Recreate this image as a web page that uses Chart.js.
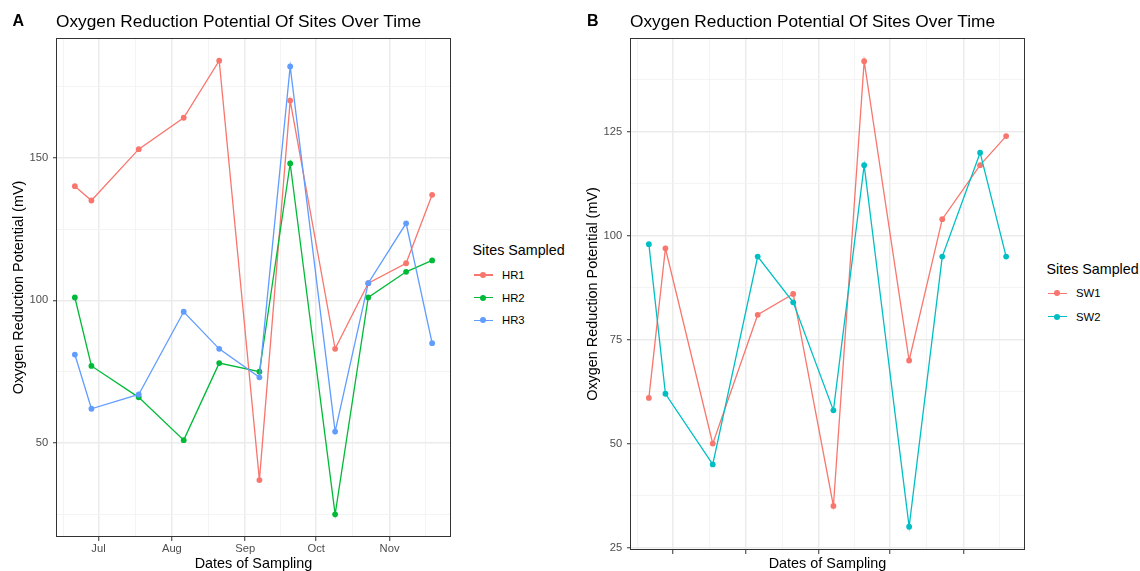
<!DOCTYPE html>
<html>
<head>
<meta charset="utf-8">
<script src="https://cdn.jsdelivr.net/npm/chart.js@4.4.1/dist/chart.umd.min.js"></script>
<style>
  body { margin: 0; background: #fff; font-family: "Liberation Sans", Arial, sans-serif; }
  #wrap { position: relative; width: 1140px; height: 571px; overflow: hidden; }
  canvas { position: absolute; top: 0; }
  .tag { position: absolute; top: 11px; font-size: 16px; font-weight: bold; line-height: 20px; color: #000; }
  .title { position: absolute; top: 10.5px; font-size: 17.3px; line-height: 20px; color: #000; white-space: nowrap; }
  .legTitle { position: absolute; font-size: 14.3px; line-height: 17px; color: #000; white-space: nowrap; }
  .legItem { position: absolute; height: 14px; display: flex; align-items: center; font-size: 11.3px; line-height: 14px; color: #000; }
  .key { position: relative; width: 18.5px; height: 14px; margin-right: 9.5px; }
  .key .ln { position: absolute; left: 0; right: 0; top: 6.3px; height: 1.4px; }
  .key .dt { position: absolute; left: 6.25px; top: 4px; width: 6px; height: 6px; border-radius: 50%; }
</style>
</head>
<body>
<div id="wrap">
  <canvas id="chartA" width="460" height="571" style="left:0px"></canvas>
  <canvas id="chartB" width="460" height="571" style="left:580px"></canvas>
  <div class="tag" style="left:12.5px">A</div>
  <div class="tag" style="left:587px">B</div>
  <div class="title" style="left:56px">Oxygen Reduction Potential Of Sites Over Time</div>
  <div class="title" style="left:630px">Oxygen Reduction Potential Of Sites Over Time</div>
</div>
<script>
// sampling dates and readings (mV)
const dates = ["2021-06-21", "2021-06-28", "2021-07-18", "2021-08-06", "2021-08-21", "2021-09-07",
               "2021-09-20", "2021-10-09", "2021-10-23", "2021-11-08", "2021-11-19"];
const hr1 = [140, 135, 153, 164, 184, 37, 170, 83, 106, 113, 137];
const hr2 = [101, 77, 66, 51, 78, 75, 148, 25, 101, 110, 114];
const hr3 = [81, 62, 67, 96, 83, 73, 182, 54, 106, 127, 85];
const sw1 = [61, 97, 50, 81, 86, 35, 142, 70, 104, 117, 124];
const sw2 = [98, 62, 45, 95, 84, 58, 117, 30, 95, 120, 95];

const hrNames = ["HR1", "HR2", "HR3"];
const hrColors = ["#F8766D", "#00BA38", "#619CFF"];
const swNames = ["SW1", "SW2"];
const swColors = ["#F8766D", "#00BFC4"];

// month breaks (Jun 1 and Dec 1 only used for minor grid midpoints)
const months = ["2021-06-01", "2021-07-01", "2021-08-01", "2021-09-01", "2021-10-01", "2021-11-01", "2021-12-01"];
const monthLabels = ["Jun", "Jul", "Aug", "Sep", "Oct", "Nov", "Dec"];
const hrTicks = [0, 50, 100, 150, 200];
const swTicks = [0, 25, 50, 75, 100, 125, 150];

const yTitle = "Oxygen Reduction Potential (mV)";
const xTitle = "Dates of Sampling";

Chart.defaults.font.family = '"Liberation Sans", Arial, sans-serif';

function day(s) {
  return Date.parse(s) / 86400000;
}

function expand(vals) {
  let lo = Math.min(...vals), hi = Math.max(...vals);
  let pad = (hi - lo) * 0.05;
  return [lo - pad, hi + pad];
}

// majors + midpoints between them, kept inside the range
function buildTicks(majors, lo, hi) {
  let out = [];
  majors.forEach((v, i) => {
    out.push({ value: v, major: true });
    if (i < majors.length - 1) out.push({ value: (v + majors[i + 1]) / 2, major: false });
  });
  return out.filter(t => t.value >= lo && t.value <= hi);
}

const panelBorder = {
  id: "panelBorder",
  afterDraw(chart) {
    let a = chart.chartArea, ctx = chart.ctx;
    ctx.save();
    ctx.strokeStyle = "#333333";
    ctx.lineWidth = 1;
    ctx.strokeRect(Math.round(a.left) - 0.5, Math.round(a.top) + 0.5,
      Math.round(a.right - a.left) + 1, Math.round(a.bottom - a.top) - 1);
    ctx.restore();
  }
};

function makePanel(id, names, colors, series, yMajors, opt) {
  let xs = dates.map(day);
  let [xMin, xMax] = expand(xs);
  let all = [].concat(...series);
  let [yMin, yMax] = expand(all);
  let xMajors = months.map(day);
  let xTickList = buildTicks(xMajors, xMin, xMax);
  let yTickList = buildTicks(yMajors, yMin, yMax);

  let datasets = series.map((vals, i) => ({
    label: names[i],
    data: vals.map((v, j) => ({ x: xs[j], y: v })),
    borderColor: colors[i],
    backgroundColor: colors[i],
    borderWidth: 1.3,
    pointRadius: 2.9,
    pointBorderWidth: 0,
    pointBackgroundColor: colors[i],
    tension: 0,
    order: series.length - i
  }));

  let gridColor = ctx => (ctx.tick && ctx.tick.major) ? "#EBEBEB" : "#F3F3F3";
  let gridWidth = ctx => (ctx.tick && ctx.tick.major) ? 1.5 : 0.9;
  let tickColor = ctx => (ctx.tick && ctx.tick.major) ? "#333333" : "rgba(0,0,0,0)";

  new Chart(document.getElementById(id), {
    type: "line",
    data: { datasets: datasets },
    options: {
      responsive: false,
      animation: false,
      layout: { padding: { top: 38, right: opt.padRight, left: 0, bottom: 0 } },
      plugins: { legend: { display: false }, tooltip: { enabled: false } },
      scales: {
        x: {
          type: "linear",
          min: xMin,
          max: xMax,
          afterBuildTicks: s => { s.ticks = xTickList.map(t => ({ value: t.value, major: t.major })); },
          afterFit: s => { s.height = opt.xHeight; },
          ticks: {
            autoSkip: false,
            maxRotation: 0,
            minRotation: 0,
            padding: 1,
            color: "#4D4D4D",
            font: { size: 11.2 },
            callback: v => {
              if (!opt.xLabels) return "";
              let k = xMajors.indexOf(v);
              return k >= 0 ? monthLabels[k] : "";
            }
          },
          grid: { color: gridColor, lineWidth: gridWidth, tickColor: tickColor, tickLength: 4, tickWidth: 1 },
          border: { display: false },
          title: { display: true, text: xTitle, color: "#000", font: { size: 14.4, lineHeight: 1.0 }, padding: { top: 0, bottom: 0 } }
        },
        y: {
          min: yMin,
          max: yMax,
          afterBuildTicks: s => { s.ticks = yTickList.map(t => ({ value: t.value, major: t.major })); },
          afterFit: s => { s.width = opt.yWidth; },
          ticks: {
            autoSkip: false,
            padding: 4.8,
            color: "#4D4D4D",
            font: { size: 11.2 },
            callback: v => yMajors.indexOf(v) >= 0 ? String(v) : ""
          },
          grid: { color: gridColor, lineWidth: gridWidth, tickColor: tickColor, tickLength: 4, tickWidth: 1 },
          border: { display: false },
          title: { display: true, text: yTitle, color: "#000", font: { size: 14.4 }, padding: { top: opt.yTitlePad, bottom: 0 } }
        }
      }
    },
    plugins: [panelBorder]
  });
}

function makeLegend(names, colors, left, titleTop, firstY, step) {
  let wrap = document.getElementById("wrap");
  let t = document.createElement("div");
  t.className = "legTitle";
  t.style.left = left + "px";
  t.style.top = titleTop + "px";
  t.innerText = "Sites Sampled";
  wrap.appendChild(t);
  names.forEach((n, i) => {
    let item = document.createElement("div");
    item.className = "legItem";
    item.style.left = (left + 1.5) + "px";
    item.style.top = (firstY + i * step - 7) + "px";
    item.innerHTML = `<span class="key"><span class="ln" style="background:${colors[i]}"></span>` +
      `<span class="dt" style="background:${colors[i]}"></span></span><span>${n}</span>`;
    wrap.appendChild(item);
  });
}

makePanel("chartA", hrNames, hrColors, [hr1, hr2, hr3], hrTicks,
  { padRight: 10, xHeight: 34, yWidth: 57, yTitlePad: 10.4, xLabels: true });
makePanel("chartB", swNames, swColors, [sw1, sw2], swTicks,
  { padRight: 16, xHeight: 21, yWidth: 51, yTitlePad: 4, xLabels: false });

makeLegend(hrNames, hrColors, 472.5, 241.5, 275, 22.7);
makeLegend(swNames, swColors, 1046.5, 260.5, 293.3, 23.4);
</script>
</body>
</html>
